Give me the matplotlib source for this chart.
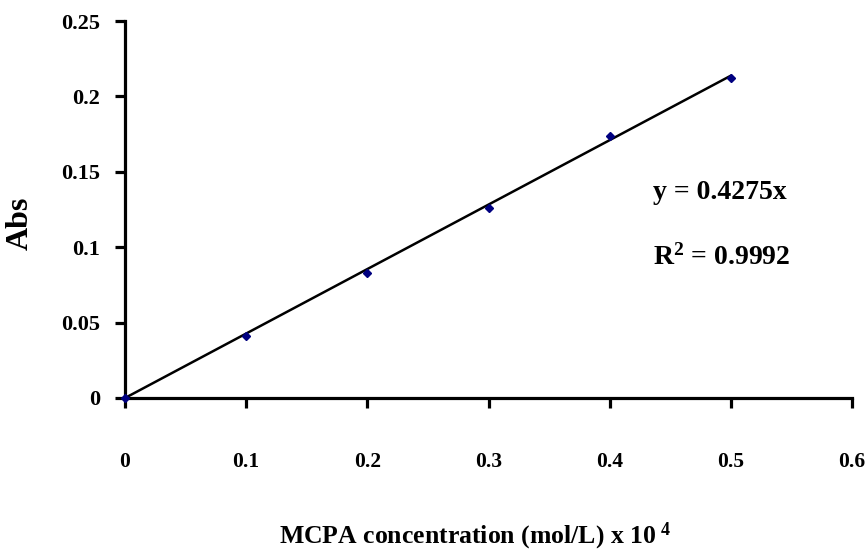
import numpy as np
import matplotlib
matplotlib.use("Agg")
import matplotlib.pyplot as plt

plt.rcParams['font.family'] = ['Liberation Serif', 'DejaVu Serif']
plt.rcParams['font.weight'] = 'bold'
plt.rcParams['mathtext.fontset'] = 'custom'
plt.rcParams['mathtext.rm'] = 'Liberation Serif:bold'
plt.rcParams['mathtext.it'] = 'Liberation Serif:bold'
plt.rcParams['mathtext.bf'] = 'Liberation Serif:bold'

# Calibration data
conc = [0, 0.1, 0.2, 0.3, 0.4, 0.5]
absorb = [0, 0.041, 0.083, 0.126, 0.174, 0.212]
slope = 0.4275
x_ticks = [0, 0.1, 0.2, 0.3, 0.4, 0.5, 0.6]
y_ticks = [0, 0.05, 0.1, 0.15, 0.2, 0.25]
x_labels = ["0", "0.1", "0.2", "0.3", "0.4", "0.5", "0.6"]
y_labels = ["0", "0.05", "0.1", "0.15", "0.2", "0.25"]

fig = plt.figure(figsize=(8.67, 5.53), dpi=100)
ax = fig.add_axes([0.1442, 0.2803, 0.8385, 0.6817])

# trend line through origin
fit_x = np.array([0, max(conc)])
ax.plot(fit_x, slope * fit_x, color="black", lw=1.8, zorder=2)
ax.plot(conc, absorb, linestyle="none", marker="D", markersize=4.5,
        color="#000080", zorder=3, clip_on=False)

ax.set_xlim(0, 0.6)
ax.set_ylim(0, 0.25)
ax.set_xticks(x_ticks)
ax.set_xticklabels(x_labels, fontsize=15.5, fontweight="bold")
ax.set_yticks(y_ticks)
ax.set_yticklabels(y_labels, fontsize=16, fontweight="bold")

for s in ["top", "right"]:
    ax.spines[s].set_visible(False)
for s in ["left", "bottom"]:
    ax.spines[s].set_linewidth(2.3)
ax.tick_params(axis="both", direction="out", length=7, width=2.3)
ax.tick_params(axis="x", pad=32)
ax.tick_params(axis="y", pad=11)

ax.set_xlabel("MCPA concentration (mol/L) x 10$^{\\ 4}$", fontsize=18.5, fontweight="bold")
ax.xaxis.set_label_coords(0.482, -0.326)
ax.set_ylabel("Abs", fontsize=23, fontweight="bold")
ax.yaxis.set_label_coords(-0.124, 0.464)

ax.text(0.4355, 0.1366, "y = 0.4275x", fontsize=20, fontweight="bold", ha="left", va="center")
ax.text(0.4355, 0.0935, "R$^{2}$ = 0.9992", fontsize=20, fontweight="bold", ha="left", va="center")

fig.savefig("out.png", dpi=100)
